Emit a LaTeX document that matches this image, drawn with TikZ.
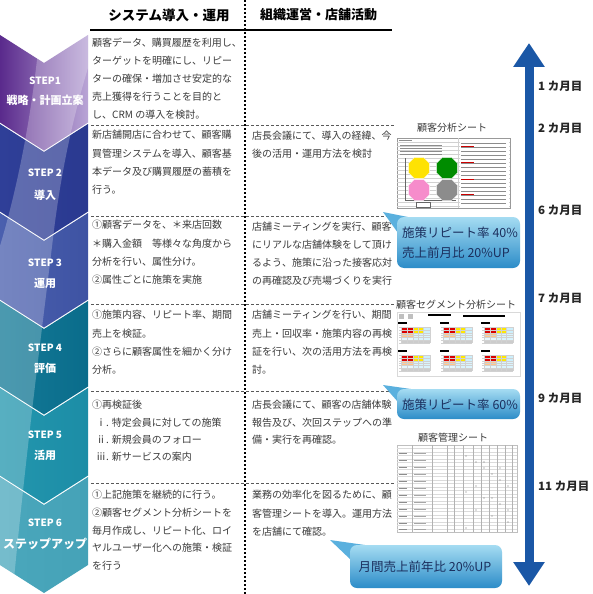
\documentclass[tikz,border=0pt]{standalone}
\usepackage{fontspec}
\setmainfont{Noto Sans CJK JP}
\usetikzlibrary{arrows.meta,shapes.geometric}
\definecolor{txt}{HTML}{3A3A3A}
\definecolor{arrowcol}{HTML}{1A57A6}
\definecolor{bubtxt}{HTML}{1B2F5E}
\definecolor{bubtop}{HTML}{A5DCF2}
\definecolor{bubbot}{HTML}{2C8CC8}
\definecolor{bubmid}{HTML}{5AB0DE}
\tikzset{
  body/.style={font=\fontsize{10}{12}\selectfont, text=txt, anchor=west, inner sep=0pt},
  hdr/.style={font=\bfseries\fontsize{13.5}{15}\selectfont, inner sep=0pt},
  month/.style={font=\bfseries\fontsize{11.5}{13}\selectfont, anchor=west, inner sep=0pt, text=black!85},
  steplbl/.style={font=\bfseries\fontsize{10}{12}\selectfont, text=white, inner sep=0pt},
  stepname/.style={font=\bfseries\fontsize{11}{13}\selectfont, text=white, inner sep=0pt},
  sheettitle/.style={font=\fontsize{10}{12}\selectfont, text=txt, inner sep=0pt},
  bubtext/.style={font=\fontsize{12.5}{15}\selectfont, text=bubtxt, inner sep=0pt},
  sepline/.style={draw=black!65, line width=0.8pt, dash pattern=on 3pt off 2pt},
  octo/.style={regular polygon, regular polygon sides=8, minimum size=23pt, inner sep=0pt, draw=white, line width=0.3pt},
  gridl/.style={draw=black!18, line width=0.3pt},
  tinyl/.style={draw=black!45, line width=0.6pt},
}
\newcommand\cell[5]{\foreach \t [count=\i] in {#5} {\node[body] (#1-\i) at (#2,{#3+#4*(\i-1)}) {\t};}}
\newcommand\chevpath[2]{(0,#1) -- (44,{#1+28}) -- (88,#1) -- (88,#2) -- (44,{#2+28}) -- (0,#2) -- cycle}
\newcommand\chev[4]{%
  \definecolor{chA}{HTML}{#3}\definecolor{chB}{HTML}{#4}%
  \shade[left color=chA, right color=chB] \chevpath{#1}{#2};}
\newcommand\segtab[2]{%
  \fill[black] (#1,#2) rectangle ++(9,2);
  \fill[red!85!black] ({#1+3},{#2+5}) rectangle ({#1+15},{#2+11});
  \fill[yellow!90!orange] ({#1+15},{#2+5}) rectangle ({#1+25},{#2+11});
  \fill[cyan!20] ({#1+25},{#2+5}) rectangle ({#1+32},{#2+11});
  \fill[orange!45] ({#1+3},{#2+11}) rectangle ({#1+15},{#2+15});
  \fill[cyan!15] ({#1+15},{#2+11}) rectangle ({#1+32},{#2+18});
  \fill[cyan!10] ({#1+3},{#2+15}) rectangle ({#1+15},{#2+18});
  \fill[black!20] ({#1+3},{#2+18}) rectangle ({#1+32},{#2+21});
  \foreach \yy in {5,8,11,13,15,18,21} {\draw[gridl] ({#1+1},{#2+\yy}) -- ({#1+32},{#2+\yy});}
  \foreach \xx in {3,9,15,20,25,32} {\draw[gridl] ({#1+\xx},{#2+5}) -- ({#1+\xx},{#2+21});}
}
\begin{document}
\begin{tikzpicture}[x=1pt,y=-1pt]
\useasboundingbox (0,0) rectangle (593,594);
\fill[white] (0,0) rectangle (593,594);

% ---------- chevrons ----------
\chev{35}{122.5}{5A2A8C}{B9A5D6}
\chev{124}{211.5}{2F3F98}{2A3990}
\chev{213}{299.5}{4A5FAE}{3E53A3}
\chev{301}{386.5}{137A97}{0A6C8B}
\chev{388}{475.5}{2396AE}{1C8DA6}
\chev{477}{565}{4AA7BC}{45A2B7}
\begin{scope}
  \clip \chevpath{35}{122.5} \chevpath{124}{211.5} \chevpath{213}{299.5}
        \chevpath{301}{386.5} \chevpath{388}{475.5} \chevpath{477}{565};
  \fill[white, opacity=0.24] (40,30) .. controls (32,120) and (15,200) .. (-5,262) -- (-5,600) -- (12,600)
     .. controls (26,450) and (42,330) .. (54,230) .. controls (64,150) and (80,90) .. (100,30) -- cycle;
\end{scope}

\node[steplbl] (s1a) at (45,81) {STEP1};
\node[stepname] (s1b) at (45,100) {戦略・計画立案};
\node[steplbl] (s2a) at (45,173) {STEP 2};
\node[stepname] (s2b) at (45,195) {導入};
\node[steplbl] (s3a) at (45,263) {STEP 3};
\node[stepname] (s3b) at (45,283) {運用};
\node[steplbl] (s4a) at (45,348) {STEP 4};
\node[stepname] (s4b) at (45,368) {評価};
\node[steplbl] (s5a) at (45,435) {STEP 5};
\node[stepname] (s5b) at (45,455) {活用};
\node[steplbl] (s6a) at (45,523) {STEP 6};
\node[stepname, font=\bfseries\fontsize{12}{14}\selectfont] (s6b) at (45,544) {ステップアップ};

% ---------- headers and grid ----------
\node[hdr] (h1) at (169,15) {システム導入・運用};
\node[hdr, font=\bfseries\fontsize{13}{15}\selectfont, anchor=west] (h2) at (260,15) {組織運営・店舗活動};
\draw[line width=2pt, black] (90,30) -- (392,30);
\draw[line width=1.6pt, black, dash pattern=on 2pt off 2pt] (245,0) -- (245,594);
\foreach \yy in {125,216,304,391,483} {\draw[sepline] (91,\yy) -- (395,\yy);}

% ---------- left texts ----------
\cell{L1}{92}{43}{18}{顧客データ、購買履歴を利用し、,ターゲットを明確にし、リピー,ターの確保・増加させ安定的な,売上獲得を行うことを目的と,し、CRM の導入を検討。}
\cell{L2}{92}{135}{18.2}{新店舗開店に合わせて、顧客購,買管理システムを導入、顧客基,本データ及び購買履歴の蓄積を,行う。}
\cell{L3}{92}{225}{18.3}{①顧客データを、＊来店回数,＊購入金額　等様々な角度から,分析を行い、属性分け。,②属性ごとに施策を実施}
\cell{L4}{92}{315}{18.3}{①施策内容、リピート率、期間,売上を検証。,②さらに顧客属性を細かく分け,分析。}
\cell{L5}{92}{405}{17.3}{①再検証後,\hspace*{4pt}ⅰ. 特定会員に対しての施策,\hspace*{4pt}ⅱ. 新規会員のフォロー,\hspace*{4pt}ⅲ. 新サービスの案内}
\cell{L6}{92}{495}{17.7}{①上記施策を継続的に行う。,②顧客セグメント分析シートを,毎月作成し、リピート化、ロイ,ヤルユーザー化への施策・検証,を行う}

% ---------- right texts ----------
\cell{R2}{252}{136}{17.5}{店長会議にて、導入の経緯、今,後の活用・運用方法を検討}
\cell{R3}{252}{227}{17.8}{店舗ミーティングを実行、顧客,にリアルな店舗体験をして頂け,るよう、施策に沿った接客応対,の再確認及び売場づくりを実行}
\cell{R4}{252}{315}{18.3}{店舗ミーティングを行い、期間,売上・回収率・施策内容の再検,証を行い、次の活用方法を再検,討。}
\cell{R5}{252}{405}{17.5}{店長会議にて、顧客の店舗体験,報告及び、次回ステップへの準,備・実行を再確認。}
\cell{R6}{252}{495}{18.3}{業務の効率化を図るために、顧,客管理シートを導入。運用方法,を店舗にて確認。}

% ---------- sheet 1 ----------
\node[sheettitle] (t1) at (452,128) {顧客分析シート};
\draw[black!40, fill=white, line width=0.4pt] (397,138) rectangle (510,208);
\foreach \yy in {142,146,...,206} {\draw[gridl] (397,\yy) -- (510,\yy);}
\draw[gridl] (458,138) -- (458,208);
\foreach \yy in {145,148,151,154} {\draw[tinyl] (400,\yy) -- (442,\yy);}
\draw[tinyl] (399,140.5) -- (412,140.5);
\draw[black!60, line width=0.4pt] (405,158) -- (405,200) -- (456,200);
\draw[black!60, line width=0.4pt, fill=white] (416,202) rectangle (430,207);
\node[octo, fill=yellow!85!orange] (o1) at (419,168) {};
\node[octo, fill=green!55!black] (o2) at (447,168) {};
\node[octo, fill=magenta!45] (o3) at (419,190) {};
\node[octo, fill=black!45] (o4) at (447,190) {};
\draw[white, fill=white] (460,140) rectangle (508,206);
\foreach \yy in {143,147,...,203} {\draw[tinyl, line width=0.5pt] (461,\yy) -- (506,\yy);}
\foreach \yy in {146,162,179,194} {\draw[red!80!black, line width=0.8pt] (461,\yy) -- (474,\yy);}

% ---------- sheet 2 ----------
\node[sheettitle] (t2) at (456,305) {顧客セグメント分析シート};
\draw[black!15, fill=white, line width=0.4pt] (397,312) rectangle (520,376);
\fill[black!25] (399,314) rectangle (404,319);
\fill[black!25] (408,314) rectangle (413,319);
\fill[black] (428,314) rectangle (451,316);
\fill[black] (463,315) rectangle (505,317);
\segtab{398}{322}
\segtab{440}{322}
\segtab{481}{322}
\segtab{398}{350}
\segtab{440}{350}
\segtab{481}{350}

% ---------- sheet 3 ----------
\node[sheettitle] (t3) at (453,438) {顧客管理シート};
\draw[black!25, fill=white, line width=0.4pt] (397,445) rectangle (517,532);
\foreach \yy in {448.5,452,...,530} {\draw[gridl, draw=black!14] (397,\yy) -- (517,\yy);}
\foreach \xx in {412,432,447,454,463,473,481,489,497,505,512} {\draw[gridl, draw=black!30] (\xx,445) -- (\xx,532);}
\foreach \yy in {453,460,467,474,481,488,495,502,509,516,523,529} {
  \draw[black!45, line width=0.6pt] (399,\yy) -- (407,\yy);
  \draw[black!35, line width=0.6pt] (414,\yy) -- (426,\yy);
}
\foreach \xx/\yy in {466/456,476/462,484/468,492/474,500/480,508/486,466/492,484/498,500/504,476/510,492/516,508/522,466/528,484/462,500/468,476/486,492/498,508/510} {
  \fill[black!55] (\xx,\yy) circle (0.7);
}

% ---------- bubbles ----------
\fill[bubmid] (383,212) -- (418,219) -- (398,233) -- cycle;
\shade[top color=bubtop, bottom color=bubbot, rounded corners=7pt] (397,217) rectangle (520,268);
\node[bubtext, anchor=west] (b1a) at (402,233) {施策リピート率 40\%};
\node[bubtext, anchor=west] (b1b) at (402,253) {売上前月比 20\%UP};

\fill[bubmid] (383,385) -- (418,390) -- (398,402) -- cycle;
\shade[top color=bubtop, bottom color=bubbot, rounded corners=7pt] (397,389) rectangle (520,419);
\node[bubtext, anchor=west] (b2) at (402,405) {施策リピート率 60\%};

\fill[bubmid] (330,540) -- (372,546) -- (351,560) -- cycle;
\shade[top color=bubtop, bottom color=bubbot, rounded corners=7pt] (350,545) rectangle (502,588);
\node[bubtext] (b3) at (425,567) {月間売上前年比 20\%UP};

% ---------- timeline arrow ----------
\coordinate (atop) at (529,43);
\coordinate (abot) at (529,586);
\draw[arrowcol, line width=9pt, {Triangle[width=30pt,length=24pt]}-{Triangle[width=30pt,length=24pt]}] (atop) -- (abot);
\node[month] (m1) at (538,86) {1 カ月目};
\node[month] (m2) at (538,128) {2 カ月目};
\node[month] (m6) at (538,210) {6 カ月目};
\node[month] (m7) at (538,298) {7 カ月目};
\node[month] (m9) at (538,398) {9 カ月目};
\node[month] (m11) at (538,486) {11 カ月目};
\end{tikzpicture}
\end{document}
